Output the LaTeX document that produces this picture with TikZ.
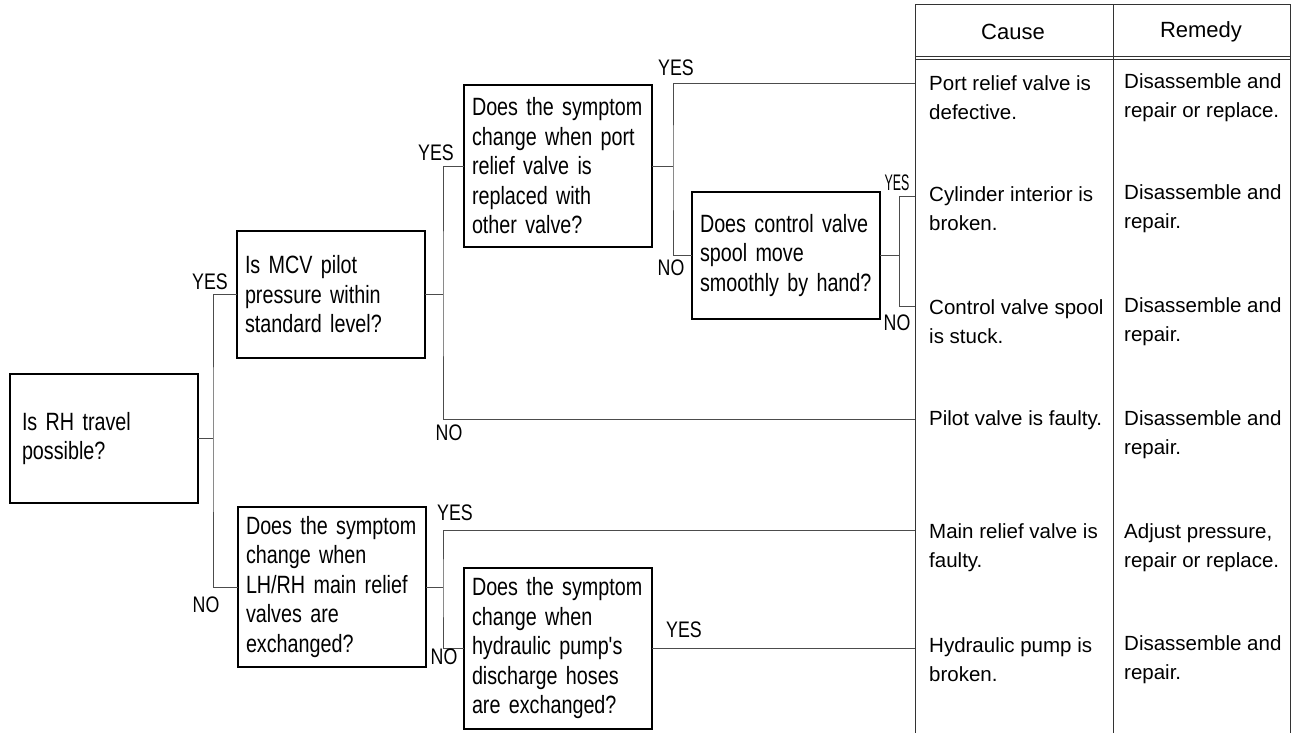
\documentclass[tikz,border=0pt]{standalone}
\usepackage{fontspec}
\setmainfont{Liberation Sans}
\newfontfamily\narrowfont[FakeStretch=0.79]{Liberation Sans}
\newfontfamily\squeezefont[FakeStretch=0.55]{Liberation Sans}
\newcommand\qfont{\narrowfont\fontsize{25}{29.5}\selectfont\hyphenpenalty=10000\relax}
\usetikzlibrary{positioning}

\begin{document}
\begin{tikzpicture}[x=1pt, y=-1pt,
   qbox/.style={draw, line width=1.2pt, anchor=north west, outer sep=0pt,
                inner xsep=8pt, inner ysep=2pt, text width=172pt, minimum height=#1,
                align=left, font=\qfont},
   cell/.style={anchor=west, inner sep=0pt, align=left,
                font=\fontsize{20.5}{29}\selectfont},
   lbl/.style={inner sep=0pt, font=\narrowfont\fontsize{22.5}{22}\selectfont},
   wire/.style={draw=black!70, line width=0.9pt},
   rule/.style={draw=black!80, line width=1pt}]

   \useasboundingbox (0,0) rectangle (1298,733);

   % Nodes
      \node[qbox=129pt, inner xsep=12pt, text width=164pt] (q1) at (10,374)  {Is RH travel\\possible?};
      \node[qbox=127pt] (q2) at (237,231) {Is MCV pilot\\pressure within\\standard level?};
      \node[qbox=160pt] (q3) at (238,507) {Does the symptom\\change when\\LH/RH main relief\\valves are\\exchanged?};
      \node[qbox=162pt] (q4) at (464,85)  {Does the symptom\\change when port\\relief valve is\\replaced with\\other valve?};
      \node[qbox=127pt] (q5) at (692,192) {Does control valve\\spool move\\smoothly by hand?};
      \node[qbox=161pt] (q6) at (464,568) {Does the symptom\\change when\\hydraulic pump's\\discharge hoses\\are exchanged?};

   % Table
      \draw[rule] (915,733) -- (915,5) -- (1290,5) -- (1290,733);
      \draw[rule] (1113,5) -- (1113,733);
      \draw[rule] (915,57) -- (1290,57);
      \draw[rule] (915,60) -- (1290,60);
      \node[cell, anchor=center, font=\fontsize{22}{22}\selectfont] (hcause)  at (1013,32) {Cause};
      \node[cell, anchor=center, font=\fontsize{22}{22}\selectfont] (hremedy) at (1201,32) {Remedy};

      \node[cell] (c1) at (929,97.5) {Port relief valve is\\defective.};
      \node[cell] (c2) at (929,209)  {Cylinder interior is\\broken.};
      \node[cell] (c3) at (929,322)  {Control valve spool\\is stuck.};
      \node[cell] (c4) at (929,420)  {Pilot valve is faulty.};
      \node[cell] (c5) at (929,547.5) {Main relief valve is\\faulty.};
      \node[cell] (c6) at (929,659.5) {Hydraulic pump is\\broken.};

      \node[cell] (r1) at (1124,97.5) {Disassemble and\\repair or replace.};
      \node[cell] (r2) at (1124,209)  {Disassemble and\\repair.};
      \node[cell] (r3) at (1124,322)  {Disassemble and\\repair.};
      \node[cell] (r4) at (1124,435)  {Disassemble and\\repair.};
      \node[cell] (r5) at (1124,547.5) {Adjust pressure,\\repair or replace.};
      \node[cell] (r6) at (1124,659.5) {Disassemble and\\repair.};

   % Junctions
      \coordinate (k1) at (213,438.5);
      \coordinate (k2) at (443,294.5);
      \coordinate (k3) at (673,166);
      \coordinate (k4) at (899,255.5);
      \coordinate (k5) at (443,587);
      \coordinate (in1) at (915,83);
      \coordinate (in2) at (915,196);
      \coordinate (in3) at (915,306);
      \coordinate (in4) at (915,419);
      \coordinate (in5) at (915,530);
      \coordinate (in6) at (915,645);

   % Paths
      \draw[wire] (q1.east) -- (k1);
      \draw[wire] (q2.west) -| (k1) |- (q3.west);
      \draw[wire] (q2.east) -- (k2);
      \draw[wire] (q4.west) -| (k2) |- (in4);
      \draw[wire] (q4.east) -- (k3);
      \draw[wire] (in1) -| (k3) |- (q5.west);
      \draw[wire] (q5.east) -- (k4);
      \draw[wire] (in2) -| (k4) |- (in3);
      \draw[wire] (q3.east) -- (k5);
      \draw[wire] (in5) -| (k5) |- (q6.west);
      \draw[wire] (q6.east) -- (q6.east -| in6);

   % Labels
      \node[lbl] (y1) at (210,282) {YES};
      \node[lbl] (n1) at (206,605) {NO};
      \node[lbl] (y2) at (436,153) {YES};
      \node[lbl] (n2) at (449,433) {NO};
      \node[lbl] (y3) at (676,68)  {YES};
      \node[lbl] (n3) at (671,268) {NO};
      \node[lbl, font=\squeezefont\fontsize{22.5}{22}\selectfont] (y4) at (897,183) {YES};
      \node[lbl] (n4) at (897,323) {NO};
      \node[lbl] (y5) at (455,513) {YES};
      \node[lbl] (n5) at (444,657) {NO};
      \node[lbl] (y6) at (684,630) {YES};
\end{tikzpicture}
\end{document}
